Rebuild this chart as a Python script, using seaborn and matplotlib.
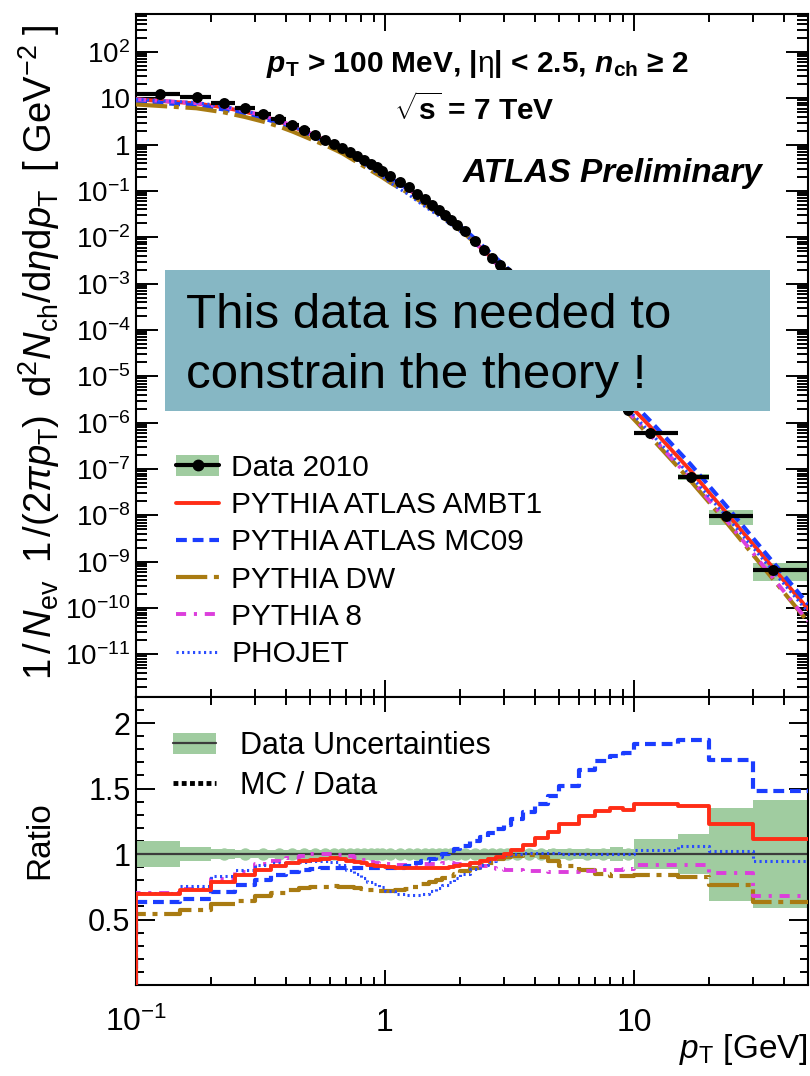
import numpy as np
import pandas as pd
import matplotlib
matplotlib.use("Agg")
import matplotlib.pyplot as plt
import seaborn as sns
from matplotlib.lines import Line2D
from matplotlib.patches import Patch, Rectangle
from matplotlib.ticker import FixedLocator, FixedFormatter, LogLocator, MultipleLocator, NullFormatter

# ---------------------------------------------------------------- data
# charged-particle pT bin edges [GeV]
pt_edges = [0.10, 0.15, 0.20, 0.25, 0.30, 0.35, 0.40, 0.45, 0.50, 0.55, 0.60, 0.65, 0.70,
            0.75, 0.80, 0.85, 0.90, 0.95, 1.00,
            1.1, 1.2, 1.3, 1.4, 1.5, 1.6, 1.7, 1.8, 1.9, 2.0,
            2.2, 2.4, 2.6, 2.8, 3.0, 3.2,
            3.6, 4.0, 4.5, 5.0, 6.0, 7.0, 8.0, 9.0, 10.0,
            15.0, 20.0, 30.0, 50.0]

# mean pT of the tracks in each bin (marker position)
pt_mean = [0.125, 0.175, 0.225, 0.275, 0.325, 0.375, 0.425, 0.475, 0.525, 0.575, 0.625, 0.675,
           0.725, 0.775, 0.825, 0.875, 0.925, 0.975,
           1.05, 1.15, 1.25, 1.35, 1.45, 1.55, 1.65, 1.75, 1.85, 1.95,
           2.1, 2.3, 2.5, 2.7, 2.9, 3.1,
           3.4, 3.8, 4.25, 4.75, 5.5, 6.5, 7.5, 8.5, 9.5,
           11.6, 16.9, 23.4, 36.2]

# 1/Nev 1/(2 pi pT) d2Nch/deta dpT  [GeV^-2]
data_dens = [12.6, 10.7, 8.1, 6.1, 4.6, 3.5, 2.65, 2.02, 1.59, 1.29, 1.05, 0.86,
             0.686, 0.559, 0.46, 0.383, 0.322, 0.274,
             0.21, 0.157, 0.12, 0.088, 0.066, 0.050, 0.039, 0.030, 0.0235, 0.0185,
             0.0134, 0.0084, 0.0054, 0.00363, 0.0025, 0.00178,
             0.00107, 0.00058, 0.000315, 0.00017, 6.5e-5, 2.25e-5, 8.9e-6, 3.8e-6, 1.9e-6,
             6.0e-7, 6.7e-8, 9.5e-9, 6.6e-10]

# relative total uncertainty of the measurement
data_relerr = [0.10, 0.05, 0.035, 0.03, 0.03, 0.03, 0.03, 0.03, 0.03, 0.03, 0.03, 0.03,
               0.03, 0.03, 0.03, 0.03, 0.03, 0.03,
               0.03, 0.03, 0.03, 0.03, 0.03, 0.03, 0.03, 0.03, 0.03, 0.03,
               0.03, 0.03, 0.03, 0.03, 0.03, 0.03,
               0.03, 0.03, 0.03, 0.035, 0.035, 0.035, 0.04, 0.05, 0.04,
               0.115, 0.15, 0.355, 0.415]

# MC / Data
ratio_ambt1 = [0.694, 0.725, 0.786, 0.837, 0.88, 0.91, 0.93, 0.944, 0.956, 0.96, 0.966, 0.964,
               0.95, 0.94, 0.93, 0.92, 0.912, 0.905,
               0.90, 0.895, 0.893, 0.89, 0.89, 0.89, 0.892, 0.895, 0.90, 0.905,
               0.915, 0.93, 0.945, 0.96, 0.98, 1.0,
               1.03, 1.07, 1.12, 1.17, 1.23, 1.29, 1.325, 1.35, 1.34,
               1.385, 1.365, 1.23, 1.117]
ratio_mc09 = [0.631, 0.66, 0.71, 0.76, 0.80, 0.837, 0.86, 0.875, 0.885, 0.89, 0.893, 0.895,
              0.897, 0.897, 0.897, 0.895, 0.893, 0.89,
              0.89, 0.895, 0.905, 0.93, 0.95, 0.965, 0.98, 1.0, 1.02, 1.04,
              1.065, 1.10, 1.13, 1.16, 1.19, 1.22,
              1.27, 1.32, 1.38, 1.44, 1.52, 1.64, 1.71, 1.75, 1.77,
              1.84, 1.87, 1.72, 1.48]
ratio_dw = [0.542, 0.57, 0.615, 0.645, 0.68, 0.705, 0.725, 0.74, 0.748, 0.752, 0.754, 0.752,
            0.747, 0.74, 0.733, 0.727, 0.723, 0.72,
            0.72, 0.725, 0.735, 0.75, 0.77, 0.785, 0.80, 0.82, 0.835, 0.85,
            0.87, 0.89, 0.915, 0.935, 0.96, 0.975,
            0.985, 0.99, 0.975, 0.95, 0.905, 0.875, 0.845, 0.835, 0.835,
            0.843, 0.825, 0.767, 0.634]
ratio_py8 = [0.70, 0.735, 0.81, 0.865, 0.925, 0.95, 0.97, 0.985, 0.997, 1.003, 1.0, 0.995,
             0.985, 0.97, 0.955, 0.94, 0.93, 0.925,
             0.922, 0.92, 0.92, 0.92, 0.922, 0.925, 0.927, 0.928, 0.928, 0.927,
             0.922, 0.915, 0.905, 0.895, 0.887, 0.88,
             0.877, 0.872, 0.868, 0.865, 0.865, 0.872, 0.878, 0.88, 0.885,
             0.915, 0.918, 0.857, 0.676]
ratio_phojet = [0.705, 0.755, 0.83, 0.875, 0.915, 0.935, 0.94, 0.942, 0.944, 0.944, 0.94, 0.92,
                0.88, 0.845, 0.815, 0.79, 0.77, 0.75,
                0.72, 0.695, 0.685, 0.685, 0.695, 0.715, 0.74, 0.765, 0.79, 0.815,
                0.85, 0.885, 0.92, 0.95, 0.975, 0.99,
                1.0, 1.005, 1.005, 1.005, 1.003, 1.0, 1.0, 1.0, 1.0,
                1.028, 1.058, 1.02, 0.944]

mc_labels = ["PYTHIA ATLAS AMBT1", "PYTHIA ATLAS MC09", "PYTHIA DW", "PYTHIA 8", "PHOJET"]
mc_ratios = [ratio_ambt1, ratio_mc09, ratio_dw, ratio_py8, ratio_phojet]

# ---------------------------------------------------------------- style
sns.set_style("ticks")
plt.rcParams.update({
    "font.family": ["Liberation Sans", "DejaVu Sans"],
    "mathtext.fontset": "custom",
    "mathtext.rm": "Liberation Sans",
    "mathtext.it": "Liberation Sans:italic",
    "mathtext.bf": "Liberation Sans:bold",
    "mathtext.bfit": "Liberation Sans:italic:bold",
    "mathtext.sf": "Liberation Sans",
    "axes.edgecolor": "black",
    "axes.labelcolor": "black",
    "text.color": "black",
    "xtick.color": "black",
    "ytick.color": "black",
    "axes.linewidth": 1.5,
})

GREEN = "#a0cca0"
styles = {
    "PYTHIA ATLAS AMBT1": dict(color="#ff2d16", linestyle="-", lw=2.8),
    "PYTHIA ATLAS MC09": dict(color="#1b3dff", linestyle=(0, (2.6, 1.4)), lw=3.0),
    "PYTHIA DW": dict(color="#a97b12", linestyle=(0, (7.5, 1.6, 1.2, 1.6)), lw=3.0),
    "PYTHIA 8": dict(color="#dc3edc", linestyle=(0, (2.6, 2.0, 0.8, 2.0)), lw=2.8),
    "PHOJET": dict(color="#2a4cff", linestyle=(0, (0.7, 1.1)), lw=2.2),
}

edges = np.array(pt_edges)
xm = np.array(pt_mean)
dens = np.array(data_dens)
err = np.array(data_relerr)

fig = plt.figure(figsize=(8.1, 10.76), dpi=100)
ax = fig.add_axes([0.1679, 0.3522, 0.8296, 0.6348])
axr = fig.add_axes([0.1679, 0.0846, 0.8296, 0.2677])

# ---------------------------------------------------------------- spectrum panel
ax.set_xscale("log")
ax.set_yscale("log")
ax.set_xlim(0.1, 50)
ax.set_ylim(1.2e-12, 6.6e2)

ax.bar(edges[:-1], dens * 2 * err, bottom=dens * (1 - err), width=np.diff(edges),
       align="edge", color=GREEN, lw=0, zorder=1)


def extend_to_range(x, y):
    """Continue a curve to the axis edges with its end slopes in log-log."""
    lx, ly = np.log10(x), np.log10(y)
    s0 = (ly[1] - ly[0]) / (lx[1] - lx[0])
    s1 = (ly[-1] - ly[-2]) / (lx[-1] - lx[-2])
    x0, x1 = edges[0], edges[-1]
    y0 = 10 ** (ly[0] + s0 * (np.log10(x0) - lx[0]))
    y1 = 10 ** (ly[-1] + s1 * (np.log10(x1) - lx[-1]))
    return np.r_[x0, x, x1], np.r_[y0, y, y1]


for name, ratio in zip(mc_labels, mc_ratios):
    xs, ys = extend_to_range(xm, dens * np.array(ratio))
    sns.lineplot(x=xs, y=ys, ax=ax, estimator=None, sort=False, legend=False,
                 zorder=3, **styles[name])

ax.errorbar(xm, dens, xerr=[xm - edges[:-1], edges[1:] - xm], fmt="none",
            ecolor="black", elinewidth=3.0, capsize=0, zorder=4)
sns.scatterplot(x=xm, y=dens, ax=ax, color="black", s=62, linewidth=0,
                edgecolor="black", zorder=5, legend=False)

ax.yaxis.set_major_locator(FixedLocator([10.0 ** k for k in range(-11, 3)]))
ylabels = []
for k in range(-11, 3):
    ylabels.append("1" if k == 0 else "10" if k == 1 else rf"$10^{{{k}}}$")
ax.yaxis.set_major_formatter(FixedFormatter(ylabels))
ax.yaxis.set_minor_locator(LogLocator(base=10, subs=np.arange(2, 10), numticks=200))
ax.yaxis.set_minor_formatter(NullFormatter())
ax.xaxis.set_major_locator(FixedLocator([0.1, 1, 10]))
ax.xaxis.set_minor_locator(LogLocator(base=10, subs=np.arange(2, 10), numticks=200))
ax.xaxis.set_major_formatter(NullFormatter())
ax.xaxis.set_minor_formatter(NullFormatter())
ax.tick_params(which="both", direction="in", top=True, right=True, width=1.4)
ax.tick_params(axis="x", which="major", length=12)
ax.tick_params(axis="x", which="minor", length=6)
ax.tick_params(axis="y", which="major", length=16, labelsize=20, pad=4)
ax.tick_params(axis="y", which="minor", length=8)

ax.set_ylabel(r"$1\,/\,N_{\mathrm{ev}}\;\;1\,/(2\pi p_{\mathrm{T}})\;\;\mathrm{d}^{2}N_{\mathrm{ch}}/\mathrm{d}\eta\mathrm{d}p_{\mathrm{T}}\;\;[\;\mathrm{GeV}^{-2}\;]$",
              fontsize=27.5)
ax.yaxis.set_label_coords(-0.110, 0.505)

ax.text(0.589, 0.9331, r"$\mathbfit{p}_{\mathbf{T}}$ > 100 MeV, |$\mathrm{\eta}$| < 2.5, $\mathbfit{n}_{\mathbf{ch}}$ ≥ 2",
        transform=fig.transFigure, ha="center", va="baseline", fontsize=21.5, fontweight="bold")
ax.text(0.585, 0.8885, r"$\sqrt{\mathbf{s}}$ = 7 TeV", transform=fig.transFigure,
        ha="center", va="baseline", fontsize=21.5, fontweight="bold")
ax.text(0.942, 0.8311, "ATLAS Preliminary", transform=fig.transFigure, ha="right",
        va="baseline", fontsize=24, fontweight="bold", fontstyle="italic")

data_handle = (Patch(facecolor=GREEN, edgecolor="none"),
               Line2D([], [], color="black", lw=3, marker="o", ms=7.5))
handles = [data_handle] + [Line2D([], [], **styles[n]) for n in mc_labels]
ax.legend(handles, ["Data 2010"] + mc_labels, loc="upper left",
          bbox_to_anchor=(0.0595, 0.356), frameon=False, fontsize=21.5,
          handlelength=1.45, handletextpad=0.4, labelspacing=0.31,
          borderaxespad=0, borderpad=0)

# ---------------------------------------------------------------- ratio panel
axr.set_xscale("log")
axr.set_xlim(0.1, 50)
axr.set_ylim(0, 2.2)

axr.bar(edges[:-1], 2 * err, bottom=1 - err, width=np.diff(edges), align="edge",
        color=GREEN, lw=0, zorder=1)
sns.scatterplot(x=xm, y=np.ones_like(xm), ax=axr, color=GREEN, s=80, linewidth=0,
                zorder=1, legend=False)
axr.axhline(1.0, color="#3c3c3c", lw=1.6, zorder=2)

step_x = np.r_[edges[0], edges]
draw_order = ["PYTHIA DW", "PYTHIA 8", "PHOJET", "PYTHIA ATLAS MC09", "PYTHIA ATLAS AMBT1"]
for name in draw_order:
    r = mc_ratios[mc_labels.index(name)]
    step_y = np.r_[0.0, r, r[-1]]
    sns.lineplot(x=step_x, y=step_y, ax=axr, estimator=None, sort=False, legend=False,
                 drawstyle="steps-post", zorder=3, **styles[name])

axr.xaxis.set_major_locator(FixedLocator([0.1, 1, 10]))
axr.xaxis.set_major_formatter(FixedFormatter([r"$10^{-1}$", "1", "10"]))
axr.xaxis.set_minor_locator(LogLocator(base=10, subs=np.arange(2, 10), numticks=200))
axr.xaxis.set_minor_formatter(NullFormatter())
axr.yaxis.set_major_locator(FixedLocator([0.5, 1.0, 1.5, 2.0]))
axr.yaxis.set_major_formatter(FixedFormatter(["0.5", "1", "1.5", "2"]))
axr.yaxis.set_minor_locator(MultipleLocator(0.1))
axr.tick_params(which="both", direction="in", top=True, right=True, width=1.4)
axr.tick_params(axis="x", which="major", length=11, labelsize=23, pad=33)
axr.tick_params(axis="x", which="minor", length=5.5)
axr.tick_params(axis="y", which="major", length=14, labelsize=22, pad=4)
axr.tick_params(axis="y", which="minor", length=6)

axr.set_ylabel("Ratio", fontsize=24)
axr.yaxis.set_label_coords(-0.1205, 0.503)
axr.set_xlabel(r"$p_{\mathrm{T}}$ [GeV]", fontsize=24, ha="right")
axr.xaxis.set_label_coords(1.0, -0.165)

unc_handle = (Patch(facecolor=GREEN, edgecolor="none"),
              Line2D([], [], color="#3c3c3c", lw=1.6))
mc_handle = Line2D([], [], color="black", lw=3.5, linestyle=(0, (1.0, 0.7)))
axr.legend([unc_handle, mc_handle], ["Data Uncertainties", "MC / Data"], loc="upper left",
           bbox_to_anchor=(0.055, 0.882), frameon=False, fontsize=22,
           handlelength=1.4, handletextpad=0.8, labelspacing=0.33,
           borderaxespad=0, borderpad=0)

# ---------------------------------------------------------------- annotation box
box = Rectangle((0.2037, 0.618), 0.747, 0.131, transform=fig.transFigure,
                facecolor="#86b7c4", edgecolor="none", zorder=10)
fig.add_artist(box)
fig.text(0.2296, 0.6952, "This data is needed to", fontsize=35.5, va="baseline",
         ha="left", zorder=11)
fig.text(0.2296, 0.6394, "constrain the theory !", fontsize=35.5, va="baseline",
         ha="left", zorder=11)

# align the pT tick labels on a common baseline (mathtext superscript included)
fig.canvas.draw()
for lab in axr.get_xticklabels():
    lab.set_verticalalignment("baseline")

fig.savefig("out.png", dpi=100)
